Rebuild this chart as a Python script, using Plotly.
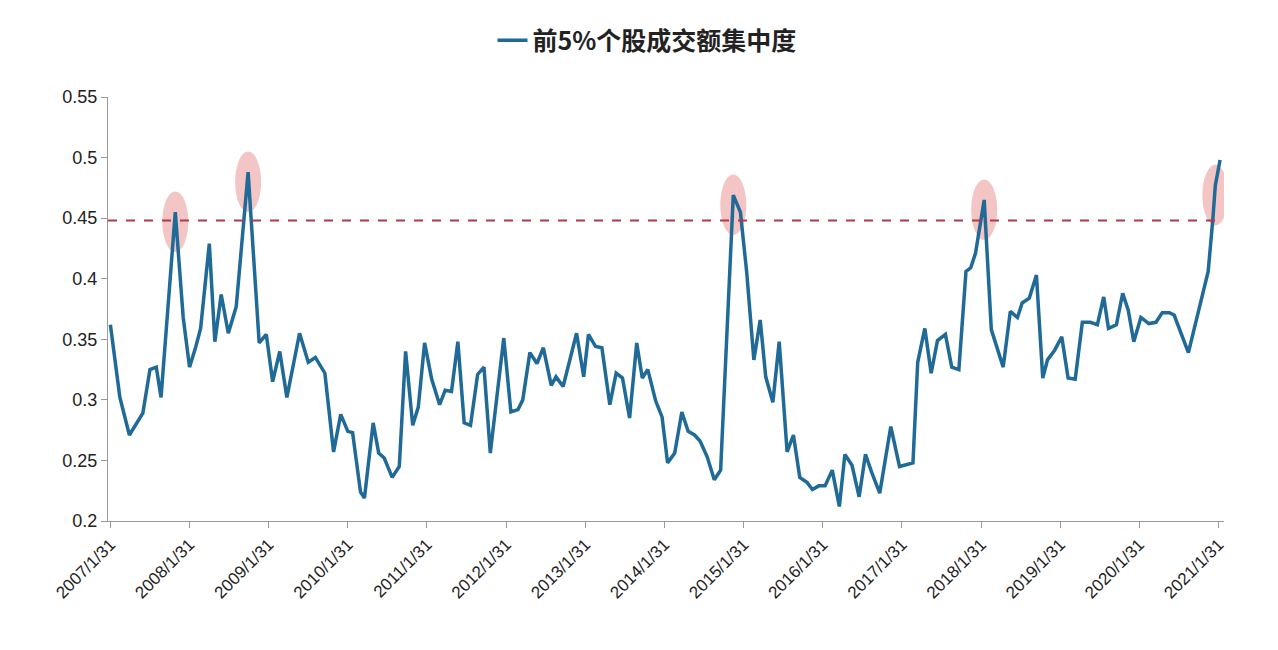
import plotly.graph_objects as go
import pandas as pd

# years elapsed since 2007/1/31 and concentration values
t_years = [0.00,0.12,0.24,0.41,0.50,0.58,0.64,0.82,0.92,1.00,1.08,1.14,1.25,1.32,1.40,1.49,1.59,1.74,1.88,1.97,
           2.05,2.14,2.23,2.39,2.50,2.59,2.71,2.82,2.91,3.00,3.06,3.16,3.21,3.32,3.39,3.46,3.56,3.65,3.73,3.82,
           3.89,3.97,4.06,4.16,4.23,4.31,4.39,4.47,4.55,4.64,4.72,4.80,4.97,5.06,5.15,5.21,5.30,5.39,5.47,5.57,
           5.63,5.72,5.89,5.98,6.04,6.13,6.21,6.31,6.39,6.47,6.56,6.65,6.72,6.79,6.89,6.97,7.04,7.13,7.22,7.30,
           7.38,7.45,7.54,7.63,7.71,7.87,7.96,8.04,8.13,8.21,8.28,8.37,8.45,8.55,8.63,8.71,8.80,8.87,8.95,9.03,
           9.12,9.21,9.28,9.37,9.46,9.54,9.62,9.72,9.86,9.97,10.14,10.20,10.29,10.37,10.45,10.55,10.63,10.72,10.81,10.87,
           10.93,11.04,11.13,11.28,11.37,11.46,11.52,11.61,11.70,11.78,11.84,11.93,12.02,12.10,12.19,12.28,12.38,12.47,12.55,12.61,
           12.71,12.79,12.86,12.93,13.02,13.12,13.21,13.29,13.38,13.44,13.62,13.75,13.87,13.93,13.96,14.02]
values = [0.362,0.302,0.271,0.289,0.325,0.327,0.302,0.455,0.368,0.327,0.344,0.359,0.429,0.348,0.387,0.355,0.377,0.488,0.347,0.354,
          0.315,0.340,0.302,0.355,0.331,0.335,0.322,0.257,0.288,0.274,0.273,0.224,0.219,0.281,0.256,0.252,0.236,0.245,0.340,0.279,
          0.294,0.347,0.317,0.296,0.308,0.307,0.348,0.281,0.279,0.321,0.327,0.256,0.351,0.290,0.292,0.300,0.339,0.330,0.343,0.312,
          0.319,0.311,0.355,0.319,0.354,0.344,0.343,0.296,0.322,0.318,0.285,0.347,0.318,0.325,0.299,0.286,0.248,0.256,0.290,0.274,
          0.271,0.266,0.253,0.234,0.242,0.469,0.455,0.405,0.333,0.366,0.319,0.298,0.348,0.257,0.271,0.236,0.232,0.226,0.229,0.229,
          0.242,0.212,0.255,0.246,0.220,0.255,0.240,0.223,0.278,0.245,0.248,0.331,0.359,0.322,0.349,0.354,0.327,0.325,0.406,0.409,
          0.421,0.465,0.358,0.327,0.373,0.368,0.380,0.384,0.403,0.318,0.333,0.341,0.352,0.318,0.317,0.364,0.364,0.362,0.385,0.359,
          0.362,0.388,0.374,0.348,0.368,0.363,0.364,0.372,0.372,0.370,0.339,0.374,0.406,0.450,0.477,0.498]
peak_idx = [7, 17, 85, 121, -2]
threshold = 0.448
tick_years = list(range(2007, 2022))
tick_labels = [f"{y}/1/31" for y in tick_years]

base = pd.Timestamp("2007-01-31")
dates = [base + pd.Timedelta(days=t * 365.25) for t in t_years]
tickvals = [pd.Timestamp(f"{y}-01-31") for y in tick_years]

fig = go.Figure()
for i in peak_idx:
    d = dates[i]
    fig.add_shape(type="circle", xref="x", yref="y",
                  x0=d - pd.Timedelta(days=60), x1=d + pd.Timedelta(days=60),
                  y0=values[i] - 0.033, y1=values[i] + 0.017,
                  fillcolor="rgba(235,150,150,0.55)", line=dict(width=0), layer="below")
fig.add_trace(go.Scatter(x=dates, y=values, mode="lines", name="前5%个股成交额集中度",
                         line=dict(color="#1f6a96", width=3.5)))
fig.add_hline(y=threshold, line=dict(color="#b0394a", width=2, dash="dash"))

fig.update_layout(
    width=1278, height=650, plot_bgcolor="white", paper_bgcolor="white",
    margin=dict(l=100, r=62, t=89, b=137),
    font=dict(family="Noto Sans CJK SC, Arial", size=18, color="#222"),
    showlegend=True,
    legend=dict(orientation="h", x=0.5, xanchor="center", xref="container",
                y=0.95, yanchor="middle", yref="container",
                font=dict(size=25, color="#222", weight="bold")),
    xaxis=dict(range=[pd.Timestamp("2007-01-20"), pd.Timestamp("2021-02-25")],
               tickvals=tickvals, ticktext=tick_labels, tickangle=-45,
               showline=True, linecolor="#999", ticks="outside", ticklen=6, tickcolor="#999",
               showgrid=False, tickfont=dict(family="Arial", size=17)),
    yaxis=dict(range=[0.2, 0.55], dtick=0.05, tickformat="~g",
               showline=True, linecolor="#999", ticks="outside", ticklen=6, tickcolor="#999",
               showgrid=False, zeroline=False, tickfont=dict(family="Arial", size=18)),
)
fig.write_html("out.html")
